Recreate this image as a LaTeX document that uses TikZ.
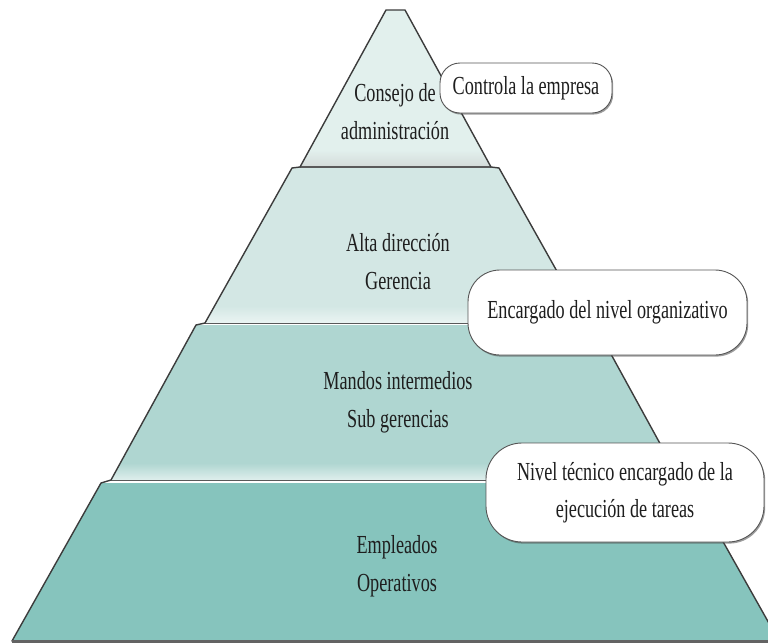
\documentclass[tikz,border=0pt]{standalone}
\usepackage{fontspec}
\setmainfont{Liberation Serif}[FakeStretch=0.70]
\usetikzlibrary{shadows}
\definecolor{segA}{RGB}{226,240,237}
\definecolor{segB}{RGB}{211,231,228}
\definecolor{segC}{RGB}{175,214,209}
\definecolor{segD}{RGB}{134,196,189}
\definecolor{edgecol}{RGB}{60,60,60}
\definecolor{txtcol}{RGB}{30,30,30}
\definecolor{boxline}{RGB}{85,85,85}
\begin{document}
\begin{tikzpicture}[x=1pt,y=-1pt,
  edge/.style={draw=edgecol,line width=1.4pt,line join=round},
  sepline/.style={draw=edgecol!85,line width=1.6pt},
  lbl/.style={font=\fontsize{26}{38}\selectfont,text=txtcol,align=center,inner sep=0pt},
  note/.style={draw=boxline,line width=0.9pt,fill=white,align=center,inner sep=0pt,
    font=\fontsize{26}{37}\selectfont,text=txtcol,
    drop shadow={shadow xshift=1.2pt,shadow yshift=-1.6pt,opacity=0.55,fill=black!70}}]
\useasboundingbox (0,0) rectangle (768,643);
\clip (0,0) rectangle (768,643);
% segments
\fill[segA] (386,10) -- (405,10) -- (491,167) -- (300,167) -- cycle;
\fill[segB] (292,168) -- (499,168) -- (586,323) -- (205,323) -- cycle;
\fill[segC] (196,325) -- (595,325) -- (680,480) -- (111,480) -- cycle;
\fill[segD] (101,483) -- (690,483) -- (779,641) -- (12,641) -- cycle;
% lighter bands at the bottom of each level
\begin{scope}
\clip (386,10) -- (405,10) -- (491,167) -- (300,167) -- cycle;
\shade[top color=segA, bottom color=segA!80!black!60] (0,150) rectangle (768,168);
\end{scope}
\begin{scope}
\clip (292,168) -- (499,168) -- (586,323) -- (205,323) -- cycle;
\shade[top color=segB, bottom color=segB!45!white] (0,306) rectangle (768,323);
\end{scope}
\begin{scope}
\clip (196,325) -- (595,325) -- (680,480) -- (111,480) -- cycle;
\shade[top color=segC, bottom color=segC!40!white] (0,463) rectangle (768,480);
\end{scope}
% separating lines
\draw[sepline] (300,167) -- (491,167);
\draw[sepline] (205,323.5) -- (586,323.5);
\draw[sepline] (111,480.5) -- (680,480.5);
% outline
\draw[edge] (386,10) -- (300,167) -- (292,168) -- (205,323) -- (196,325) -- (111,480) -- (101,483) -- (12,641)
  -- (779,641) -- (690,483) -- (680,480) -- (595,325) -- (586,323) -- (499,168) -- (491,167) -- (405,10) -- cycle;
\draw[draw=edgecol!80,line width=2.6pt] (12,641.5) -- (779,641.5);
% level labels
\node[lbl] (consejo) at (395,112) {Consejo de\\administración};
\node[lbl] (alta) at (398,262) {Alta dirección\\Gerencia};
\node[lbl] (mandos) at (398,402) {Mandos intermedios\\Sub gerencias};
\node[lbl] (empleados) at (397,566) {Empleados\\Operativos};
% notes
\node[note,minimum width=172pt,minimum height=50pt,rounded corners=20pt] (n1) at (526,88) {Controla la empresa};
\node[note,minimum width=279pt,minimum height=85pt,rounded corners=32pt] (n2) at (607.5,312.5) {Encargado del nivel organizativo};
\node[note,minimum width=278pt,minimum height=99pt,rounded corners=36pt] (n3) at (625,492.5) {Nivel técnico encargado de la\\ejecución de tareas};
\end{tikzpicture}
\end{document}
